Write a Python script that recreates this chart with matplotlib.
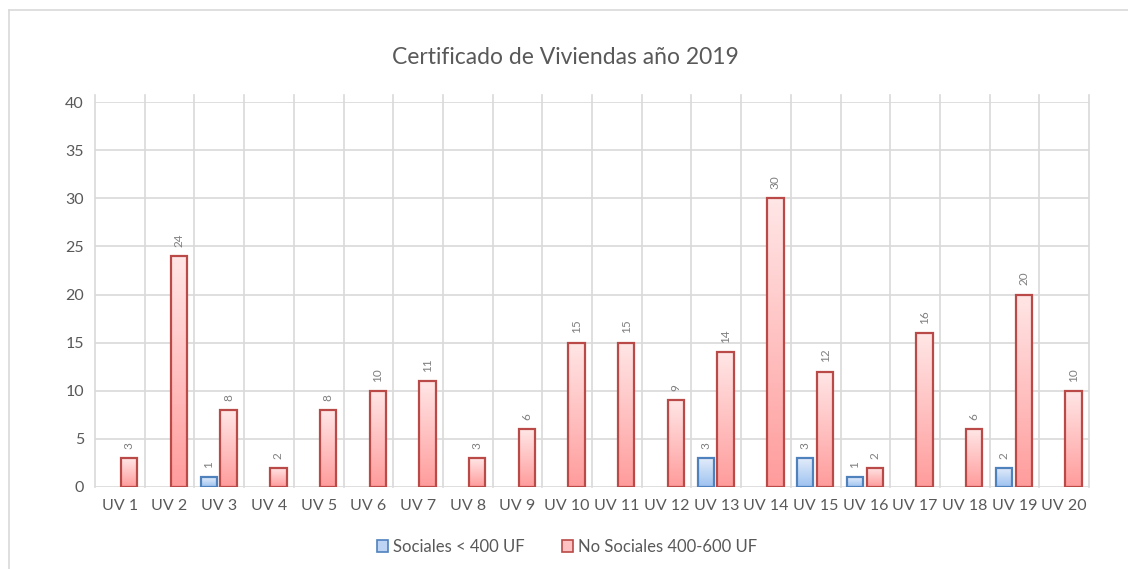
import numpy as np
import matplotlib
matplotlib.use("Agg")
import matplotlib.pyplot as plt
from matplotlib.patches import Patch
from matplotlib.lines import Line2D

categories = [f"UV {i}" for i in range(1, 21)]
sociales = [0, 0, 1, 0, 0, 0, 0, 0, 0, 0, 0, 0, 3, 0, 3, 1, 0, 0, 2, 0]
no_sociales = [3, 24, 8, 2, 8, 10, 11, 3, 6, 15, 15, 9, 14, 30, 12, 2, 16, 6, 20, 10]

title = "Certificado de Viviendas año 2019"
label_soc = "Sociales < 400 UF"
label_nosoc = "No Sociales 400-600 UF"

plt.rcParams["font.family"] = ["Lato", "DejaVu Sans"]
text_gray = "#595959"
grid_gray = "#D9D9D9"

fig = plt.figure(figsize=(11.28, 5.69), dpi=100)
ax = fig.add_axes([95 / 1128, 1 - 487 / 569, (1089 - 95) / 1128, (487 - 102) / 569])

# outer chart frame
fig.add_artist(Line2D([9 / 1128, 9 / 1128], [0, 1 - 10 / 569], color=grid_gray, lw=1.2))
fig.add_artist(Line2D([9 / 1128, 1], [1 - 10 / 569, 1 - 10 / 569], color=grid_gray, lw=1.2))

ax.set_xlim(-0.5, len(categories) - 0.5)
ax.set_ylim(0, 40)
ax.set_yticks(range(0, 41, 5))
ax.set_xticks(range(len(categories)))
ax.set_xticklabels(categories)
ax.tick_params(axis="both", length=0, labelsize=11.5, colors=text_gray, pad=8)
ax.tick_params(axis="x", pad=9)
for s in ax.spines.values():
    s.set_visible(False)
for y in range(0, 41, 5):
    ax.axhline(y, color=grid_gray, lw=1.2, zorder=0)
for xb in np.arange(-0.5, len(categories), 1.0):
    ax.plot([xb, xb], [0, 40.75], color=grid_gray, lw=1.2, zorder=0, clip_on=False)


def grad_bar(x, h, w, top_col, bot_col, edge):
    if h <= 0:
        return
    grad = np.linspace(0, 1, 64).reshape(-1, 1)
    top = np.array(matplotlib.colors.to_rgb(top_col))
    bot = np.array(matplotlib.colors.to_rgb(bot_col))
    img = top * (1 - grad[..., None]) + bot * grad[..., None]
    img = img.reshape(64, 1, 3)
    ax.imshow(img, extent=[x - w / 2, x + w / 2, 0, h], aspect="auto",
              zorder=2, origin="upper")
    ax.add_patch(plt.Rectangle((x - w / 2, 0), w, h, fill=False,
                               edgecolor=edge, lw=1.6, zorder=3))
    ax.text(x, h + 0.95, str(h), rotation=90, ha="center", va="bottom",
            fontsize=8.5, color="#7F7F7F", zorder=4)


w = 0.33
for i in range(len(categories)):
    grad_bar(i - 0.21, sociales[i], w, "#E3ECFA", "#9CC2F0", "#4F81BD")
    grad_bar(i + 0.19, no_sociales[i], w, "#FFE6E6", "#FF9C9C", "#B94A48")

ax.set_xlim(-0.5, len(categories) - 0.5)
ax.set_ylim(0, 40)

fig.text(565 / 1128, 1 - 57 / 569, title, ha="center", va="center",
         fontsize=16.5, color=text_gray)

handles = [Patch(facecolor="#BDD4F4", edgecolor="#4F81BD", lw=1.2, label=label_soc),
           Patch(facecolor="#FFC2C2", edgecolor="#B94A48", lw=1.2, label=label_nosoc)]
leg = fig.legend(handles=handles, loc="center", bbox_to_anchor=(567 / 1128, 1 - 547 / 569),
                 ncol=2, frameon=False, fontsize=12, handlelength=0.7, handleheight=0.7,
                 handletextpad=0.3, columnspacing=2.2)
for t in leg.get_texts():
    t.set_color(text_gray)

fig.savefig("out.png", dpi=100)
